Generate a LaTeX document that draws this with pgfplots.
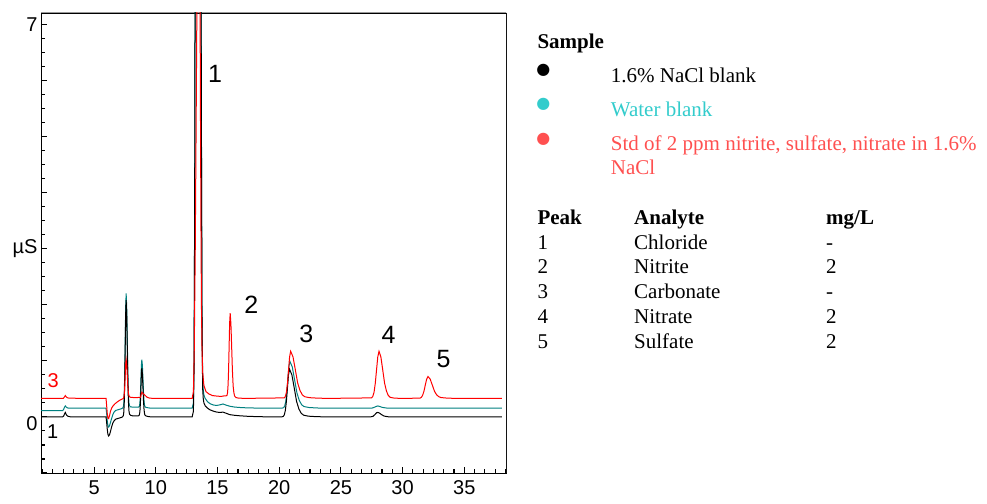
\documentclass[border=0pt]{standalone}
\usepackage{fontspec}
\setmainfont{Liberation Serif}
\newfontfamily\arial{Liberation Sans}
\newfontfamily\dejavu{DejaVu Sans}
\usepackage{pgfplots}
\pgfplotsset{compat=1.18}
\definecolor{tealline}{RGB}{0,128,128}
\definecolor{tealtext}{RGB}{51,204,204}
\definecolor{redtext}{RGB}{255,80,80}
\begin{document}
\begin{tikzpicture}
\useasboundingbox (0pt,0pt) rectangle (987pt,503pt);
\begin{axis}[
  at={(41pt,30pt)}, anchor=south west,
  scale only axis, width=465pt, height=460pt,
  xmin=0.7, xmax=38.38, ymin=-1, ymax=7.2,
  axis line style={black,line width=0.9pt},
  tick align=inside,
  xtick pos=bottom, ytick pos=left,
  xtick={5,10,...,35},
  minor xtick={0.833333,1.666667,...,38.4},
  ytick={-1,0,...,7},
  yticklabels={,\smash{\raisebox{-14pt}{0}},,,µS,,,,7},
  minor ytick={-0.75,-0.5,...,7.1},
  major tick length=6pt, minor tick length=4pt,
  tick style={black,line width=1.1pt},
  ticklabel style={font=\arial\fontsize{20}{24}\selectfont},
  /pgf/number format/assume math mode=true,
  xticklabel style={yshift=-4pt},
]
\draw[gray!80,line width=1pt] (rel axis cs:0,1) -- (rel axis cs:1,1) -- (rel axis cs:1,0);
% Water blank (teal)
\addplot[tealline, line width=1pt] coordinates {
(0.7,0.11) (2.45,0.11) (2.55,0.14) (2.6,0.17) (2.67,0.195) (2.73,0.18) (2.8,0.165) (2.9,0.158) (3.1,0.155) (5.97,0.155)
(6.02,0.06) (6.07,-0.07) (6.12,-0.155) (6.18,-0.18) (6.25,-0.16) (6.33,-0.1) (6.42,-0.03) (6.52,0.04) (6.62,0.085) (6.75,0.115) (6.9,0.125) (7.05,0.135) (7.2,0.145) (7.3,0.155)
(7.375,0.178) (7.4125,0.245) (7.45,0.43) (7.4875,0.82) (7.525,1.395) (7.5625,1.96) (7.6,2.2) (7.645,1.96) (7.69,1.395) (7.735,0.82) (7.78,0.43) (7.825,0.25) (7.87,0.2) (7.95,0.18) (8.1,0.175) (8.4,0.175) (8.6,0.175)
(8.66,0.185) (8.695,0.21) (8.73,0.29) (8.765,0.45) (8.80,0.69) (8.835,0.92) (8.87,1.02) (8.915,0.92) (8.96,0.69) (9.005,0.44) (9.05,0.28) (9.095,0.2) (9.15,0.175) (9.3,0.165) (9.6,0.155) (12.95,0.155)
(13.05,0.25) (13.1,0.95) (13.15,3.6) (13.2,9) (13.3,40) (13.43,80) (13.55,40) (13.65,10) (13.7,5.2) (13.75,1.7) (13.8,0.7) (13.85,0.48) (13.9,0.39) (14.0,0.33) (14.2,0.27) (14.4,0.235) (14.7,0.21) (14.95,0.205) (15.2,0.215) (15.45,0.23) (15.7,0.21) (16.0,0.19) (16.4,0.175) (16.8,0.168) (17.5,0.16) (18.5,0.157) (20.2,0.155)
(20.36,0.164) (20.445,0.192) (20.53,0.268) (20.615,0.426) (20.70,0.662) (20.785,0.892) (20.87,0.99) (21.06,0.892) (21.25,0.662) (21.44,0.426) (21.63,0.293) (21.82,0.217) (22.01,0.185) (22.39,0.168) (23.07,0.159) (24,0.155)
(27.5,0.155) (27.75,0.175) (27.9,0.19) (28.0,0.195) (28.15,0.185) (28.35,0.17) (28.7,0.158) (29.0,0.155) (38.05,0.155)
};
% 1.6% NaCl blank (black)
\addplot[black, line width=1pt] coordinates {
(0.7,0) (2.45,0) (2.55,0.02) (2.6,0.05) (2.67,0.08) (2.73,0.05) (2.8,0.025) (2.9,0.01) (3.05,0.003) (3.2,0) (5.97,0)
(6.02,-0.1) (6.07,-0.22) (6.12,-0.31) (6.18,-0.34) (6.25,-0.32) (6.33,-0.26) (6.42,-0.18) (6.52,-0.11) (6.62,-0.07) (6.75,-0.04) (6.9,-0.03) (7.05,-0.02) (7.2,-0.01) (7.3,0.0)
(7.375,0.023) (7.4125,0.091) (7.45,0.28) (7.4875,0.675) (7.525,1.26) (7.5625,1.84) (7.6,2.08) (7.645,1.84) (7.69,1.26) (7.735,0.68) (7.78,0.29) (7.825,0.11) (7.87,0.05) (7.95,0.03) (8.1,0.02) (8.4,0.02) (8.6,0.02)
(8.66,0.03) (8.695,0.06) (8.73,0.14) (8.765,0.30) (8.80,0.53) (8.835,0.77) (8.87,0.87) (8.915,0.77) (8.96,0.53) (9.005,0.29) (9.05,0.13) (9.095,0.05) (9.15,0.025) (9.3,0.01) (9.6,0) (12.95,0)
(13.05,0.1) (13.1,0.8) (13.15,3.5) (13.2,9) (13.3,40) (13.43,80) (13.55,40) (13.65,10) (13.7,5) (13.75,1.5) (13.8,0.5) (13.85,0.32) (13.9,0.25) (14.0,0.2) (14.2,0.155) (14.4,0.125) (14.7,0.1) (14.95,0.085) (15.2,0.08) (15.45,0.085) (15.7,0.065) (16.0,0.04) (16.4,0.028) (16.8,0.02) (17.5,0.01) (18.5,0.003) (20.2,0)
(20.33,0.009) (20.415,0.037) (20.5,0.115) (20.585,0.276) (20.67,0.516) (20.755,0.75) (20.84,0.85) (21.03,0.75) (21.22,0.516) (21.41,0.276) (21.6,0.14) (21.79,0.063) (21.98,0.031) (22.36,0.013) (23.04,0.004) (24,0)
(27.4,0) (27.6,0.01) (27.75,0.04) (27.9,0.075) (28.0,0.08) (28.15,0.065) (28.3,0.04) (28.5,0.015) (28.8,0.003) (29.1,0) (38.05,0)
};
% Std in 1.6% NaCl (red)
\addplot[red, line width=1pt] coordinates {
(0.7,0.33) (2.5,0.33) (2.58,0.35) (2.67,0.38) (2.75,0.355) (2.85,0.34) (3.0,0.333) (5.97,0.33)
(6.02,0.2) (6.07,0.06) (6.12,-0.02) (6.18,-0.03) (6.25,0.02) (6.33,0.1) (6.43,0.16) (6.55,0.2) (6.7,0.235) (6.9,0.27) (7.1,0.3) (7.3,0.32)
(7.375,0.328) (7.4125,0.351) (7.45,0.415) (7.4875,0.548) (7.525,0.745) (7.5625,0.938) (7.6,1.02) (7.645,0.938) (7.69,0.745) (7.735,0.555) (7.78,0.43) (7.825,0.38) (7.87,0.36) (7.95,0.35) (8.2,0.345) (8.5,0.345) (8.75,0.35)
(8.78,0.36) (8.84,0.42) (8.88,0.44) (8.95,0.42) (9.05,0.4) (9.15,0.38) (9.3,0.35) (9.5,0.335) (9.8,0.33) (12.95,0.33)
(13.05,0.45) (13.12,1.2) (13.2,3.0) (13.27,5.2) (13.33,7.2) (13.4,12) (13.47,20) (13.54,12) (13.58,8) (13.62,5.5) (13.66,3.5) (13.7,2.0) (13.75,1.2) (13.8,0.8) (13.9,0.56) (14.07,0.45) (14.3,0.41) (14.6,0.38) (15.0,0.37) (15.3,0.365) (15.55,0.375) (15.7,0.375)
(15.775,0.386) (15.8175,0.435) (15.86,0.57) (15.9025,0.85) (15.945,1.27) (15.9875,1.676) (16.03,1.85) (16.09,1.656) (16.15,1.248) (16.21,0.831) (16.27,0.55) (16.33,0.43) (16.39,0.371) (16.5,0.345) (16.7,0.335) (17.2,0.33)
(20.42,0.339) (20.505,0.367) (20.59,0.443) (20.675,0.603) (20.76,0.84) (20.845,1.071) (20.93,1.17) (21.12,1.071) (21.31,0.84) (21.5,0.603) (21.69,0.469) (21.88,0.392) (22.07,0.36) (22.45,0.343) (23.13,0.334) (24,0.33)
(27.49,0.339) (27.59,0.367) (27.69,0.443) (27.79,0.603) (27.89,0.84) (27.99,1.071) (28.09,1.17) (28.24,1.071) (28.39,0.84) (28.54,0.603) (28.69,0.463) (28.84,0.382) (28.99,0.349) (29.3,0.336) (29.8,0.33)
(31.4,0.334) (31.51,0.347) (31.62,0.383) (31.73,0.457) (31.84,0.567) (31.95,0.674) (32.06,0.72) (32.235,0.674) (32.41,0.567) (32.585,0.457) (32.76,0.393) (32.935,0.36) (33.11,0.345) (33.5,0.337) (34,0.332) (38.05,0.33)
};
\node[font=\arial\fontsize{25}{30}\selectfont] at (axis cs:14.81,6.12) {1};
\node[font=\arial\fontsize{25}{30}\selectfont] at (axis cs:17.75,1.99) {2};
\node[font=\arial\fontsize{25}{30}\selectfont] at (axis cs:22.19,1.48) {3};
\node[font=\arial\fontsize{25}{30}\selectfont] at (axis cs:28.86,1.47) {4};
\node[font=\arial\fontsize{25}{30}\selectfont] at (axis cs:33.32,1.03) {5};
\node[font=\arial\fontsize{20}{24}\selectfont, text=red] at (axis cs:1.68,0.64) {3};
\node[font=\arial\fontsize{20}{24}\selectfont] at (axis cs:1.65,-0.27) {1};
\end{axis}
% legend
\node[anchor=base west, inner sep=0pt, font=\fontsize{21}{25}\selectfont\bfseries] at (537.3pt,454pt) {Sample};
\node[inner sep=0pt, font=\dejavu\fontsize{16}{16}\selectfont] at (543.3pt,432.3pt) {●};
\node[inner sep=0pt, font=\dejavu\fontsize{16}{16}\selectfont, text=tealtext] at (543.3pt,398.7pt) {●};
\node[inner sep=0pt, font=\dejavu\fontsize{16}{16}\selectfont, text=redtext] at (543.3pt,364pt) {●};
\node[anchor=base west, inner sep=0pt, font=\fontsize{21}{25}\selectfont] at (610.7pt,420.7pt) {1.6\% NaCl blank};
\node[anchor=base west, inner sep=0pt, font=\fontsize{21}{25}\selectfont, text=tealtext] at (610.7pt,386.3pt) {Water blank};
\node[anchor=base west, inner sep=0pt, font=\fontsize{21}{25}\selectfont, text=redtext] at (610.7pt,352pt) {Std of 2 ppm nitrite, sulfate, nitrate in 1.6\%};
\node[anchor=base west, inner sep=0pt, font=\fontsize{21}{25}\selectfont, text=redtext] at (610.7pt,328pt) {NaCl};
\node[anchor=base west, inner sep=0pt, font=\fontsize{21}{25}\selectfont\bfseries] at (537.3pt,278pt) {Peak};
\node[anchor=base west, inner sep=0pt, font=\fontsize{21}{25}\selectfont\bfseries] at (634pt,278pt) {Analyte};
\node[anchor=base west, inner sep=0pt, font=\fontsize{21}{25}\selectfont\bfseries] at (826pt,278pt) {mg/L};
\node[anchor=base west, inner sep=0pt, font=\fontsize{21}{25}\selectfont] at (537.3pt,253.7pt) {1};
\node[anchor=base west, inner sep=0pt, font=\fontsize{21}{25}\selectfont] at (634pt,253.7pt) {Chloride};
\node[anchor=base west, inner sep=0pt, font=\fontsize{21}{25}\selectfont] at (826pt,253.7pt) {-};
\node[anchor=base west, inner sep=0pt, font=\fontsize{21}{25}\selectfont] at (537.3pt,229pt) {2};
\node[anchor=base west, inner sep=0pt, font=\fontsize{21}{25}\selectfont] at (634pt,229pt) {Nitrite};
\node[anchor=base west, inner sep=0pt, font=\fontsize{21}{25}\selectfont] at (826pt,229pt) {2};
\node[anchor=base west, inner sep=0pt, font=\fontsize{21}{25}\selectfont] at (537.3pt,204pt) {3};
\node[anchor=base west, inner sep=0pt, font=\fontsize{21}{25}\selectfont] at (634pt,204pt) {Carbonate};
\node[anchor=base west, inner sep=0pt, font=\fontsize{21}{25}\selectfont] at (826pt,204pt) {-};
\node[anchor=base west, inner sep=0pt, font=\fontsize{21}{25}\selectfont] at (537.3pt,179.7pt) {4};
\node[anchor=base west, inner sep=0pt, font=\fontsize{21}{25}\selectfont] at (634pt,179.7pt) {Nitrate};
\node[anchor=base west, inner sep=0pt, font=\fontsize{21}{25}\selectfont] at (826pt,179.7pt) {2};
\node[anchor=base west, inner sep=0pt, font=\fontsize{21}{25}\selectfont] at (537.3pt,154.7pt) {5};
\node[anchor=base west, inner sep=0pt, font=\fontsize{21}{25}\selectfont] at (634pt,154.7pt) {Sulfate};
\node[anchor=base west, inner sep=0pt, font=\fontsize{21}{25}\selectfont] at (826pt,154.7pt) {2};
\end{tikzpicture}
\end{document}
